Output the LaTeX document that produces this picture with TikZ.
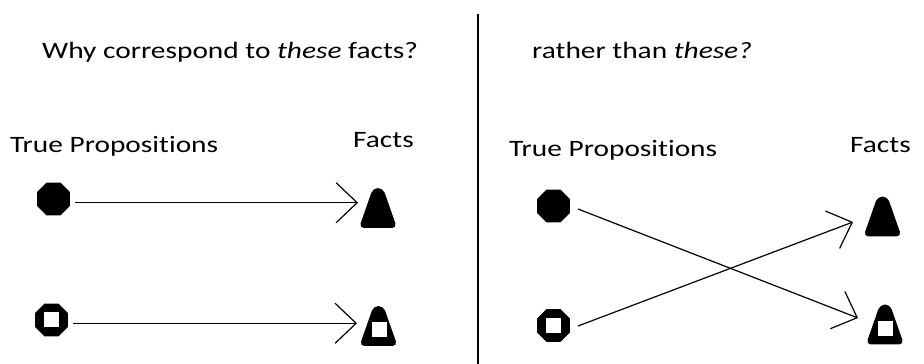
\documentclass[tikz,border=0pt]{standalone}
\usepackage{fontspec}
\setmainfont{Carlito}[FakeStretch=1.25,Ligatures=NoCommon]
\usetikzlibrary{shapes.geometric,arrows.meta,calc}
\begin{document}
\begin{tikzpicture}[x=1pt,y=1pt,
  lbl/.style={anchor=base west,inner sep=0pt,font=\fontsize{23.5}{28}\selectfont},
  octo/.style={regular polygon,regular polygon sides=8,minimum size=35.7pt,inner sep=0pt,fill=black,draw=none},
  trap/.style={rectangle,minimum width=38pt,minimum height=40pt,inner sep=0pt,
    path picture={\fill[rounded corners=5pt]
      (path picture bounding box.south west) -- (path picture bounding box.south east)
      -- ([xshift=-14pt]path picture bounding box.north east)
      -- ([xshift=14pt]path picture bounding box.north west) -- cycle;}},
  hole/.style={rectangle,fill=white,minimum size=15pt,inner sep=0pt},
  link/.style={line width=1.2pt,-{Straight Barb[length=21pt,width=40pt]}}]
\useasboundingbox (0,0) rectangle (924,364);

% divider between the two panels
\coordinate (dtop) at (478,350);
\coordinate (dbot) at (478,0);
\draw[line width=1.6pt] (dtop) -- (dbot);

% headings
\node[lbl] (h1) at (42,305) {Why correspond to \textit{these} facts?};
\node[lbl] (h2) at (532,305) {rather than \textit{these?}};
\node[lbl] (tpl) at (10,211) {True Propositions};
\node[lbl] (fl) at (353,216) {Facts};
\node[lbl] (tpr) at (509,207) {True Propositions};
\node[lbl] (fr) at (850,211) {Facts};

% left panel: propositions and facts
\node[octo] (p1) at (53.5,165) {};
\node[octo] (p2) at (51.5,44) {};
\node[hole] (p2h) at (p2.center) {};
\node[trap] (f1) at (378,156) {};
\node[trap] (f2) at (378.5,38) {};
\node[hole] (f2h) at ($(f2.center)+(0.8,-4)$) {};

\draw[link] ($(p1.center)+(21.5,-3.7)$) -- ($(f1.center)+(-20,5.3)$);
\draw[link] ($(p2.center)+(21.5,-3.3)$) -- ($(f2.center)+(-21.5,2.7)$);

% right panel: crossed correspondence
\node[octo] (q1) at (553.5,158) {};
\node[octo] (q2) at (553.5,38.5) {};
\node[hole] (q2h) at (q2.center) {};
\node[trap] (g1) at (882.5,147.5) {};
\node[trap] (g2) at (885,39.5) {};
\node[hole] (g2h) at ($(g2.center)+(0.8,-4)$) {};

\draw[link] ($(q1.center)+(24.5,-3)$) -- ($(g2.center)+(-27,6.5)$);
\draw[link] ($(q2.center)+(24.5,-0.5)$) -- ($(g1.center)+(-29.5,-5.5)$);
\end{tikzpicture}
\end{document}
